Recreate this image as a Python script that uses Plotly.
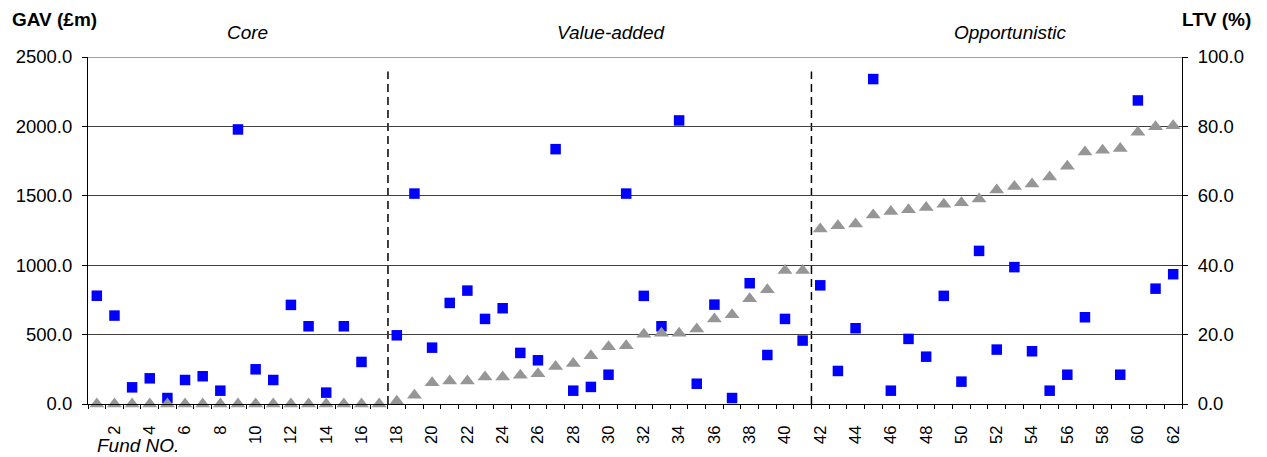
import plotly.graph_objects as go

fund_no = list(range(1, 63))
gav = [780, 637, 120, 185, 43, 173, 200, 96, 1978, 250,
       173, 714, 560, 82, 560, 303, None, 495, 1516, 406,
       728, 817, 613, 690, 368, 315, 1836, 96, 123, 211,
       1516, 779, 560, 2043, 146, 716, 43, 870, 353, 613,
       457, 855, 238, 546, 2341, 96, 469, 341, 779, 161,
       1103, 392, 986, 380, 96, 211, 625, None, 211, 2187,
       831, 935]
ltv = [0, 0, 0, 0, 0, 0, 0, 0, 0, 0,
       0, 0, 0, 0, 0, 0, 0, 0.8, 2.5, 6.1,
       6.6, 6.6, 7.8, 7.8, 8.3, 8.7, 10.8, 11.7, 13.9, 16.5,
       16.8, 20.1, 20.4, 20.4, 21.6, 24.5, 25.7, 30.3, 32.9, 38.5,
       38.5, 50.4, 51.4, 51.9, 54.5, 55.5, 56.0, 56.6, 57.6, 58.0,
       59.1, 61.7, 62.7, 63.4, 65.4, 68.5, 72.6, 73.1, 73.6, 78.3,
       79.9, 80.2]
groups = ["Core", "Value-added", "Opportunistic"]
group_last_fund = [17, 41]  # boundaries after these funds
gav_ticks = [0, 500, 1000, 1500, 2000, 2500]
ltv_ticks = [0, 20, 40, 60, 80, 100]
x_ticks = list(range(2, 63, 2))

FONT = "Liberation Sans"

fig = go.Figure()
fig.add_trace(go.Scatter(
    x=fund_no, y=ltv, mode="markers", yaxis="y2", name="LTV (%)",
    marker=dict(symbol="triangle-up", size=13, color="#969696", line=dict(width=0)),
    showlegend=False, cliponaxis=False))
fig.add_trace(go.Scatter(
    x=fund_no, y=gav, mode="markers", name="GAV (£m)",
    marker=dict(symbol="square", size=10.5, color="#0000FF", line=dict(width=0)),
    showlegend=False, cliponaxis=False))

shapes = []
for b in group_last_fund:
    shapes.append(dict(type="line", xref="x", yref="y", x0=b + 0.5, x1=b + 0.5,
                       y0=0, y1=2395, line=dict(color="black", width=1.5, dash="8px,5px"),
                       layer="below"))
shapes.append(dict(type="line", xref="paper", yref="y", x0=0, x1=1, y0=2500, y1=2500,
                   line=dict(color="#a0a0a0", width=2), layer="above"))

W, H = 1267, 457
ml, mr, mt, mb = 88, 85, 57, 53
pw, ph = W - ml - mr, H - mt - mb

annotations = [
    dict(text="<b>GAV (£m)</b>", x=10, y=20),
    dict(text="<b>LTV (%)</b>", x=1253, y=20, xanchor="right"),
    dict(text="<i>" + groups[0] + "</i>", x=247, y=32, xanchor="center"),
    dict(text="<i>" + groups[1] + "</i>", x=611, y=32, xanchor="center"),
    dict(text="<i>" + groups[2] + "</i>", x=1010, y=32, xanchor="center"),
    dict(text="<i>Fund NO.</i>", x=95, y=445),
]
ann_out = []
for a in annotations:
    ann_out.append(dict(
        text=a["text"], xref="paper", yref="paper",
        x=(a["x"] - ml) / pw, y=1 - (a["y"] - mt) / ph,
        xanchor=a.get("xanchor", "left"), yanchor="middle",
        showarrow=False, font=dict(family=FONT, size=19, color="black")))

fig.update_layout(
    width=W, height=H,
    margin=dict(l=ml, r=mr, t=mt, b=mb, pad=0, autoexpand=False),
    plot_bgcolor="white", paper_bgcolor="white",
    font=dict(family=FONT, color="black"),
    shapes=shapes, annotations=ann_out,
    xaxis=dict(
        range=[0.5, 62.5], tickmode="array", tickvals=x_ticks,
        ticktext=[str(v) for v in x_ticks], tickangle=-90,
        tickfont=dict(family=FONT, size=16.5, color="black"),
        ticks="", showgrid=False, zeroline=False, automargin=False,
        showline=True, linecolor="black", linewidth=1,
        ticklabelstandoff=14,
        minor=dict(tickmode="array", tickvals=[f - 0.5 for f in fund_no] + [62.5],
                   ticks="outside", ticklen=4, tickcolor="black", tickwidth=1,
                   showgrid=False),
    ),
    yaxis=dict(
        range=[0, 2500], tickmode="array", tickvals=gav_ticks,
        ticktext=[f"{v:.1f}" for v in gav_ticks],
        tickfont=dict(family=FONT, size=18.5, color="black"),
        ticks="outside", ticklen=5, tickcolor="black", automargin=False,
        showgrid=True, gridcolor="#404040", gridwidth=1,
        zeroline=False, showline=True, linecolor="black", linewidth=1,
        ticklabelstandoff=6,
    ),
    yaxis2=dict(
        range=[0, 100], tickmode="array", tickvals=ltv_ticks,
        ticktext=[f"{v:.1f}" for v in ltv_ticks],
        tickfont=dict(family=FONT, size=18.5, color="black"),
        overlaying="y", side="right", automargin=False,
        ticks="outside", ticklen=5, tickcolor="black",
        showgrid=False, zeroline=False, showline=True, linecolor="black", linewidth=1,
        ticklabelstandoff=6,
    ),
)

fig.write_html("out.html", config={"displayModeBar": False},
               post_script="document.body.style.margin='0px';")
